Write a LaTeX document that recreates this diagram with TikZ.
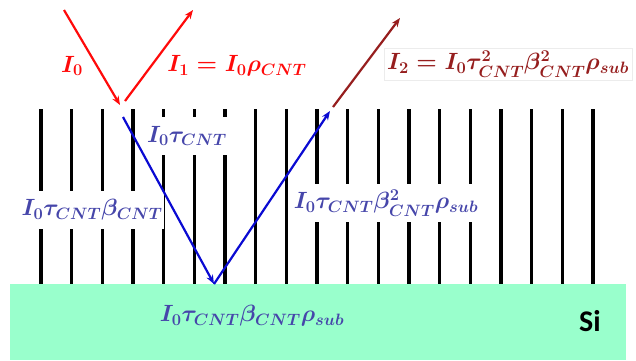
\RequirePackage{fix-cm}
\documentclass[tikz,border=0pt]{standalone}
\usepackage{amsmath,amssymb}
\usepackage{fontspec}
\newfontfamily\sifont{Carlito}
\usepackage{xcolor}
\usepackage{tikz}
\usetikzlibrary{arrows.meta}

\definecolor{sigreen}{RGB}{153,255,204}
\definecolor{beamred}{RGB}{255,10,10}
\definecolor{outred}{RGB}{150,30,30}
\definecolor{beamblue}{RGB}{10,10,210}
\definecolor{labblue}{RGB}{70,70,170}

\begin{document}
\begin{tikzpicture}[x=1pt,y=-1pt,
  wire/.style={line width=3.2pt},
  ray/.style={-{Stealth[length=9pt,width=7pt]},line width=2.2pt},
  lab/.style={font=\fontsize{23.5}{27}\selectfont\boldmath,inner sep=1.5pt},
  labbox/.style={lab,fill=white,text=labblue,minimum height=38pt}]

  \useasboundingbox (0,0) rectangle (636,360);

  % substrate
  \fill[sigreen] (10,284) rectangle (626,360);
  \node[font=\sifont\bfseries\fontsize{30}{32}\selectfont] (si) at (590,321) {Si};

  % CNT forest
  \foreach \i in {0,...,18}
    \draw[wire] ({41+30.67*\i},109) -- ({41+30.67*\i},284);

  % labels inside the forest
  \node[labbox] (t1) at (187,136) {$I_0\tau_{CNT}$};
  \node[labbox] (t2) at (92,210) {$I_0\tau_{CNT}\beta_{CNT}$};
  \node[labbox] (t3) at (386,203) {$I_0\tau_{CNT}\beta^2_{CNT}\rho_{sub}$};
  \node[lab,text=labblue] (t4) at (252,316) {$I_0\tau_{CNT}\beta_{CNT}\rho_{sub}$};

  % labels above
  \node[lab,text=beamred] (i0) at (72,66) {$I_0$};
  \node[lab,text=beamred] (i1) at (237,66) {$I_1=I_0\rho_{CNT}$};
  \node[lab,text=outred,fill=white,draw=gray!15,inner sep=3pt] (i2) at (508,64)
    {$I_2=I_0\tau^2_{CNT}\beta^2_{CNT}\rho_{sub}$};

  % beam points
  \coordinate (src) at (64,10);
  \coordinate (hit) at (120,105);
  \coordinate (r1a) at (125,101);
  \coordinate (r1b) at (193,10);
  \coordinate (in) at (123,117);
  \coordinate (bot) at (214,284);
  \coordinate (out) at (330,111);
  \coordinate (r2a) at (333,107);
  \coordinate (r2b) at (400,18);

  \draw[ray,beamred] (src) -- (hit);
  \draw[ray,beamred] (r1a) -- (r1b);
  \draw[ray,beamblue] (in) -- (bot);
  \draw[ray,beamblue] (bot) -- (out);
  \draw[ray,outred] (r2a) -- (r2b);

\end{tikzpicture}
\end{document}
